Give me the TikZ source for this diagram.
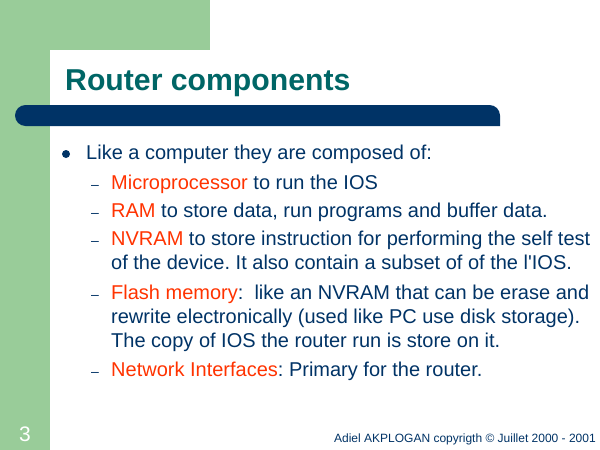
\documentclass[tikz,border=0pt]{standalone}
\usepackage{fontspec}
\setmainfont{Liberation Sans}
\frenchspacing
\definecolor{slidegreen}{RGB}{153,204,153}
\definecolor{slidenavy}{RGB}{0,51,102}
\definecolor{slideteal}{RGB}{0,102,102}
\definecolor{slidered}{RGB}{255,51,0}
\newcommand{\hl}[1]{\textcolor{slidered}{#1}}
\newcommand{\straightquote}{\XeTeXglyph\XeTeXcharglyph"27\relax}
\tikzset{
  bodytext/.style={anchor=base west, inner sep=0pt, text=slidenavy, font=\fontsize{20}{24}\selectfont},
  dashmark/.style={anchor=base west, inner sep=0pt, text=slidenavy, font=\fontsize{14}{16}\selectfont},
}
\begin{document}
\begin{tikzpicture}[x=1pt,y=-1pt]
\useasboundingbox (0,0) rectangle (600,450);
% background
\fill[slidegreen] (0,0) rectangle (210,50);
\fill[slidegreen] (0,0) rectangle (50,450);
\fill[white, rounded corners=12pt] (50,450) -- (50,50) -- (600,50) [sharp corners] -- (600,450) -- cycle;
% title bar
\fill[slidenavy, rounded corners=10.5pt] (500,126) -- (15,126) -- (15,105) -- (500,105) [sharp corners] -- cycle;
% title
\node[anchor=base west, inner sep=0pt, text=slideteal, font=\fontsize{30.2}{34}\selectfont\bfseries] (title) at (65,90) {Router components};
% bullet
\node[circle, fill=slidenavy, inner sep=0pt, minimum size=8pt] (dot) at (66,154) {};
\node[bodytext] (l1) at (86,159) {Like a computer they are composed of:};
\node[dashmark] (d1) at (91,189) {–};
\node[bodytext] (l2) at (111,189) {\hl{Microprocessor} to run the IOS};
\node[dashmark] (d2) at (91,217) {–};
\node[bodytext] (l3) at (111,217) {\hl{RAM} to store data, run programs and buffer data.};
\node[dashmark] (d3) at (91,245) {–};
\node[bodytext] (l4) at (111,245) {\hl{NVRAM} to store instruction for performing the self test};
\node[bodytext] (l5) at (111,269) {of the device. It also contain a subset of of the l\straightquote IOS.};
\node[dashmark] (d4) at (91,299) {–};
\node[bodytext] (l6) at (111,299) {\hl{Flash memory}:\ \ like an NVRAM that can be erase and};
\node[bodytext] (l7) at (111,323) {rewrite electronically (used like PC use disk storage).};
\node[bodytext] (l8) at (111,347) {The copy of IOS the router run is store on it.};
\node[dashmark] (d5) at (91,376) {–};
\node[bodytext] (l9) at (111,376) {\hl{Network Interfaces}: Primary for the router.};
% footer
\node[anchor=base west, inner sep=0pt, text=white, font=\fontsize{21}{24}\selectfont] (pagenum) at (19,441) {3};
\node[anchor=base east, inner sep=0pt, text=slidenavy, font=\fontsize{12}{14}\selectfont] (footer) at (596,442) {Adiel AKPLOGAN copyrigth © Juillet 2000 - 2001};
\end{tikzpicture}
\end{document}
